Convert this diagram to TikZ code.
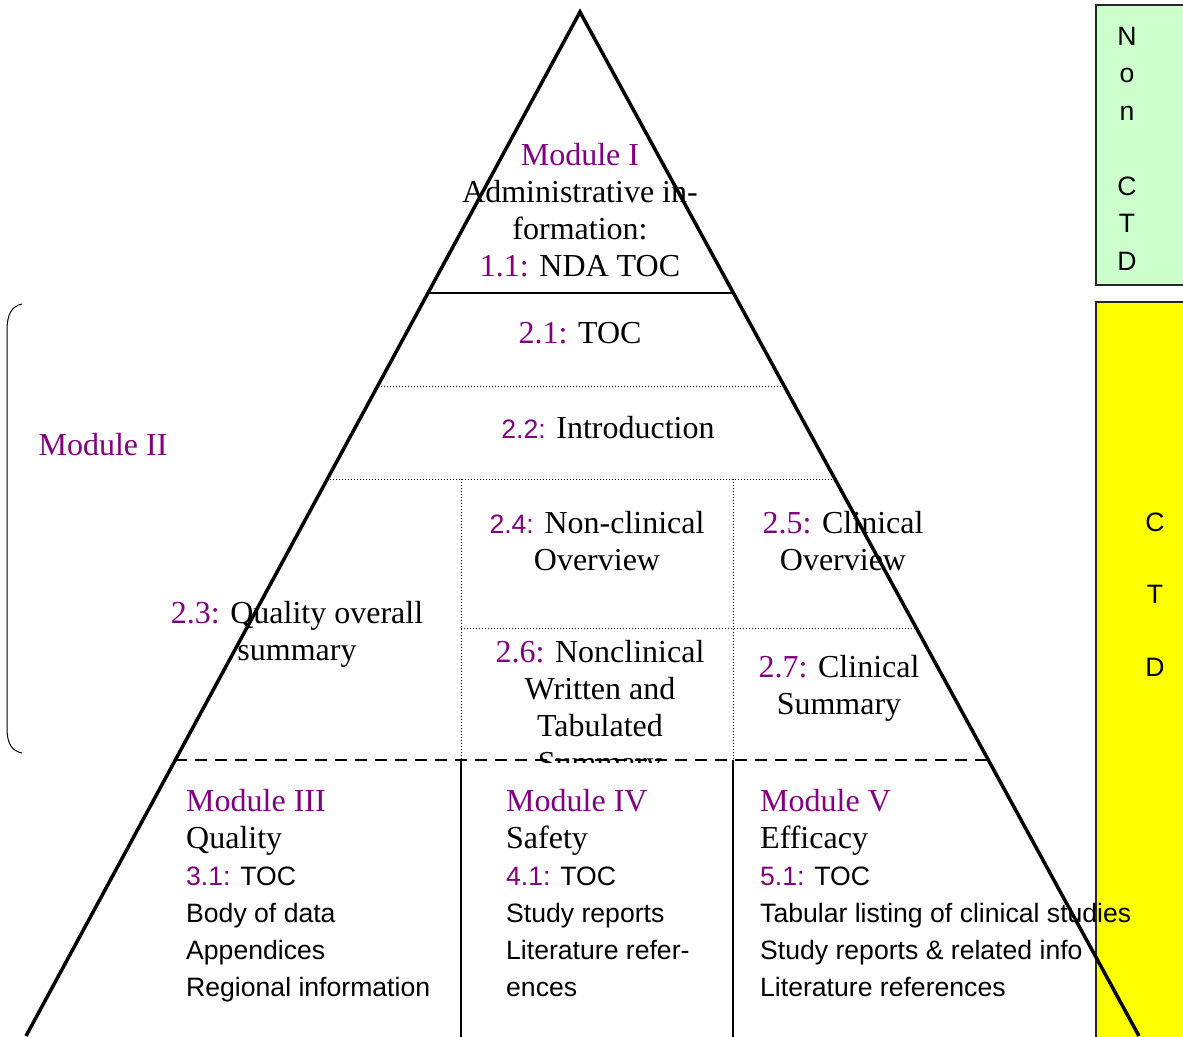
\documentclass[tikz,border=0pt]{standalone}
\usepackage{fontspec}
\setmainfont{Liberation Serif}
\setsansfont{Liberation Sans}
\usetikzlibrary{calc}
\definecolor{modpurple}{HTML}{800080}
\definecolor{ctdgreen}{HTML}{CCFFCC}
\definecolor{ctdyellow}{HTML}{FFFF00}
\newcommand\mnum[1]{\textcolor{modpurple}{#1}}
\newcommand\sfsize{\sffamily\fontsize{26.6}{37}\selectfont}

\begin{document}
\begin{tikzpicture}[x=1pt,y=-1pt,
  edge/.style={line width=3.5pt},
  rulesolid/.style={line width=2.5pt},
  ruledot/.style={line width=1pt, dash pattern=on 1pt off 2pt},
  ruledash/.style={line width=2.2pt, dash pattern=on 12pt off 8pt},
  split/.style={line width=2pt},
  brace/.style={line width=1pt},
  ctdframe/.style={line width=1.5pt, draw=black!85},
  % multi-line nodes are placed by the baseline of their last line
  blk/.style={font=\fontsize{32}{37}\selectfont, align=center, inner sep=0pt, anchor=base},
  modblk/.style={font=\fontsize{32}{37}\selectfont, align=left, inner sep=0pt, anchor=base west},
  barlabel/.style={font=\sfsize, align=center, inner sep=0pt, anchor=base}]
\useasboundingbox (0,0) rectangle (1183,1036);
\clip (0,0) rectangle (1183,1036);

% CTD side bars
\draw[ctdframe, fill=ctdgreen] (1096,5) rectangle (1195,285);
\draw[ctdframe, fill=ctdyellow] (1096,302) rectangle (1195,1045);
\node[barlabel, font=\sffamily\fontsize{26.6}{37.5}\selectfont] (nonctd) at (1127,270)
  {N\\o\\n\\[37.5pt]C\\T\\D};
\node[barlabel, font=\sffamily\fontsize{26.6}{72.5}\selectfont] (ctd) at (1155,676)
  {C\\T\\D};

% pyramid corner points and the points where the rules meet its sides
\coordinate (apex) at (580,12);
\coordinate (bl) at (26,1036);
\coordinate (br) at (1139,1036);
\coordinate (L293) at ($(apex)!0.27441!(bl)$);
\coordinate (R293) at ($(apex)!0.27441!(br)$);
\coordinate (L386) at ($(apex)!0.36523!(bl)$);
\coordinate (R386) at ($(apex)!0.36523!(br)$);
\coordinate (L479) at ($(apex)!0.45605!(bl)$);
\coordinate (R479) at ($(apex)!0.45605!(br)$);
\coordinate (R628) at ($(apex)!0.60156!(br)$);
\coordinate (L760) at ($(apex)!0.73047!(bl)$);
\coordinate (R760) at ($(apex)!0.73047!(br)$);
\coordinate (c1t) at (461,479);
\coordinate (c1m) at (461,628);
\coordinate (c1b) at (461,760);
\coordinate (c1e) at (461,1040);
\coordinate (c2t) at (733,479);
\coordinate (c2b) at (733,760);
\coordinate (c2e) at (733,1040);

% Module I
\node[blk] (m1) at (580,276)
  {\mnum{Module I}\\Administrative in-\\formation:\\\mnum{1.1:} NDA TOC};

% Module II
\node[blk] (m2) at (103,455) {\mnum{Module II}};
\draw[brace] (22,304) .. controls (12,306) and (7,314) .. (7,330) -- (7,728)
  .. controls (7,744) and (12,751) .. (22,753);
\node[blk] (s21) at (580,343) {\mnum{2.1:} TOC};
\node[blk] (s22) at (608,438) {\mnum{\sfsize 2.2:} Introduction};
\node[blk] (s23) at (297,660) {\mnum{2.3:} Quality overall\\summary};
\node[blk] (s24) at (597,570) {\mnum{\sfsize 2.4:} Non-clinical\\Overview};
\node[blk] (s25) at (843,570) {\mnum{2.5:} Clinical\\Overview};
\node[blk] (s27) at (839,714) {\mnum{2.7:} Clinical\\Summary};
% the last line of 2.6 runs under the box below and is cut off there
\begin{scope}
  \clip (0,0) rectangle (1183,762);
  \node[blk] (s26) at (600,773)
    {\mnum{2.6:} Nonclinical\\Written and\\Tabulated\\Summary};
\end{scope}

% Modules III, IV and V
\node[modblk] (m3) at (186,996)
  {\mnum{Module III}\\Quality\\{\sfsize\mnum{3.1:} TOC}\\{\sfsize Body of data}\\
   {\sfsize Appendices}\\{\sfsize Regional information}};
\node[modblk] (m4) at (506,996)
  {\mnum{Module IV}\\Safety\\{\sfsize\mnum{4.1:} TOC}\\{\sfsize Study reports}\\
   {\sfsize Literature refer-}\\{\sfsize ences}};
\node[modblk] (m5) at (760,996)
  {\mnum{Module V}\\Efficacy\\{\sfsize\mnum{5.1:} TOC}\\{\sfsize Tabular listing of clinical studies}\\
   {\sfsize Study reports \& related info}\\{\sfsize Literature references}};

% rules inside the pyramid
\draw[ruledot] (L386) -- (R386);
\draw[ruledot] (L479) -- (R479);
\draw[ruledot] (c1t) -- (c1b);
\draw[ruledot] (c2t) -- (c2b);
\draw[ruledot] (c1m) -- (R628);
\draw[ruledash] (L760) -- (R760);
\draw[split] (c1b) -- (c1e);
\draw[split] (c2b) -- (c2e);
\draw[rulesolid] (L293) -- (R293);

% pyramid sides
\draw[edge, line join=miter] (bl) -- (apex) -- (br);
\end{tikzpicture}
\end{document}
